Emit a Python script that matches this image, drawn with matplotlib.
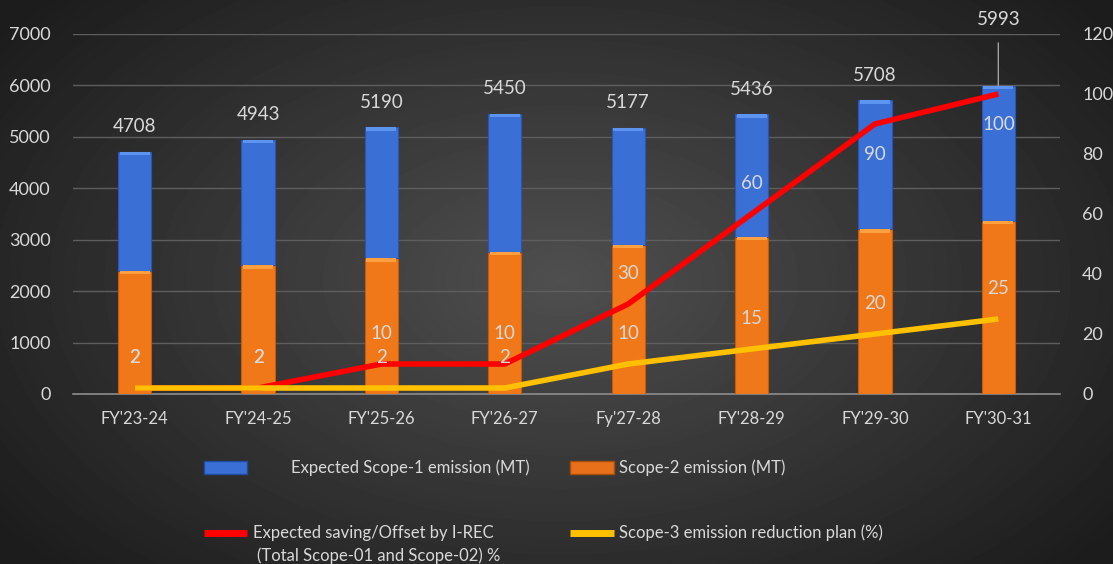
import matplotlib
matplotlib.use("Agg")
import matplotlib.pyplot as plt
import numpy as np
from matplotlib.patches import Rectangle
from matplotlib.lines import Line2D

# data
years = ["FY'23-24", "FY'24-25", "FY'25-26", "FY'26-27", "Fy'27-28", "FY'28-29", "FY'29-30", "FY'30-31"]
totals = [4708, 4943, 5190, 5450, 5177, 5436, 5708, 5993]
scope2 = [2400, 2510, 2640, 2770, 2900, 3055, 3210, 3370]
saving_pct = [2, 2, 10, 10, 30, 60, 90, 100]
scope3_pct = [2, 2, 2, 2, 10, 15, 20, 25]

scope1 = [t - s for t, s in zip(totals, scope2)]

plt.rcParams['font.family'] = ['Lato', 'DejaVu Sans']
txt = '#d9d9d9'
W, H = 1113.0, 564.0

fig = plt.figure(figsize=(11.13, 5.64), dpi=100)

# dark radial background
bg = fig.add_axes([0, 0, 1, 1], zorder=-10)
yy, xx = np.mgrid[0:564, 0:1113]
r = np.sqrt(((xx - 560) / 700.0) ** 2 + ((yy - 280) / 420.0) ** 2)
shade = np.clip(0.31 - 0.2 * r, 0.11, 0.31)
bg.imshow(shade, cmap='gray', vmin=0, vmax=1, aspect='auto', interpolation='bilinear')
bg.axis('off')

ax = fig.add_axes([73 / W, 1 - 394 / H, (1060 - 73) / W, 360 / H])
ax.patch.set_alpha(0)
x = np.arange(len(years))
w = 0.27

ax.bar(x, scope2, w, color='#f07818', edgecolor='#c85a0a', linewidth=0.8, zorder=3)
ax.bar(x, scope1, w, bottom=scope2, color='#3a6fd6', edgecolor='#2a55b0', linewidth=0.8, zorder=3)
# lighter caps for the bevelled look
ax.bar(x, [70] * len(x), w * 0.9, bottom=[s - 70 for s in scope2], color='#ffa040', zorder=4)
ax.bar(x, [70] * len(x), w * 0.9, bottom=[t - 70 for t in totals], color='#5c94f0', zorder=4)

ax.set_xlim(-0.5, len(years) - 0.5)
ax.set_ylim(0, 7000)
ax.set_yticks(range(0, 7001, 1000))
ax.set_xticks(x)
ax.set_xticklabels(years)
ax.grid(axis='y', color='#5e5e5e', linewidth=1, zorder=0)
for s in ['top', 'right', 'left']:
    ax.spines[s].set_visible(False)
ax.spines['bottom'].set_color('#8c8c8c')
ax.spines['bottom'].set_linewidth(1.2)
ax.tick_params(axis='y', length=0, pad=16, labelsize=13, labelcolor=txt)
ax.tick_params(axis='x', length=0, pad=12, labelsize=12, labelcolor=txt)

for i, t in enumerate(totals):
    if i == len(totals) - 1:
        ax.annotate(str(t), (i, t), xytext=(0, 48), textcoords='offset points',
                    ha='center', va='center', color=txt, fontsize=13.5,
                    arrowprops=dict(arrowstyle='-', color='#a0a0a0', lw=1, shrinkA=9, shrinkB=0))
    else:
        ax.annotate(str(t), (i, t), xytext=(0, 18), textcoords='offset points',
                    ha='center', va='center', color=txt, fontsize=13.5)

ax2 = ax.twinx()
ax2.set_ylim(0, 120)
ax2.set_yticks(range(0, 121, 20))
for s in ax2.spines.values():
    s.set_visible(False)
ax2.tick_params(axis='y', length=0, pad=16, labelsize=13, labelcolor=txt)

ax2.plot(x, saving_pct, color='#ff0000', linewidth=4, solid_capstyle='butt', zorder=5)
ax2.plot(x, scope3_pct, color='#ffc000', linewidth=4, solid_capstyle='butt', zorder=6)

red_off = [22, 22, 22, 22, 22, 22, -22, -22]
for i, v in enumerate(saving_pct):
    ax2.annotate(str(v), (i, v), xytext=(0, red_off[i]), textcoords='offset points',
                 ha='center', va='center', color=txt, fontsize=13.5, zorder=7)
for i, v in enumerate(scope3_pct):
    ax2.annotate(str(v), (i, v), xytext=(0, 22), textcoords='offset points',
                 ha='center', va='center', color=txt, fontsize=13.5, zorder=7)

# legend drawn by hand, in pixel positions of the reference
def fx(px):
    return px / W

def fy(py):
    return 1 - py / H

fig.add_artist(Rectangle((fx(204), fy(474)), 43 / W, 13 / H, transform=fig.transFigure,
                         facecolor='#3a6fd6', edgecolor='#1f4c9c', linewidth=1))
fig.add_artist(Rectangle((fx(570), fy(474)), 44 / W, 13 / H, transform=fig.transFigure,
                         facecolor='#e8701a', edgecolor='#a84e0c', linewidth=1))
fig.add_artist(Line2D([fx(204), fx(247)], [fy(533), fy(533)], transform=fig.transFigure,
                      color='#ff0000', linewidth=5, solid_capstyle='butt'))
fig.add_artist(Line2D([fx(570), fx(614)], [fy(533), fy(533)], transform=fig.transFigure,
                      color='#ffc000', linewidth=5, solid_capstyle='butt'))
fig.text(fx(291), fy(468), 'Expected Scope-1 emission (MT)', color=txt, fontsize=12, va='center')
fig.text(fx(619), fy(468), 'Scope-2 emission (MT)', color=txt, fontsize=12, va='center')
fig.text(fx(253), fy(533), 'Expected saving/Offset by I-REC', color=txt, fontsize=12, va='center')
fig.text(fx(257), fy(556), '(Total Scope-01 and Scope-02) %', color=txt, fontsize=12, va='center')
fig.text(fx(619), fy(533), 'Scope-3 emission reduction plan (%)', color=txt, fontsize=12, va='center')

fig.savefig('out.png', dpi=100, facecolor='#262626')
